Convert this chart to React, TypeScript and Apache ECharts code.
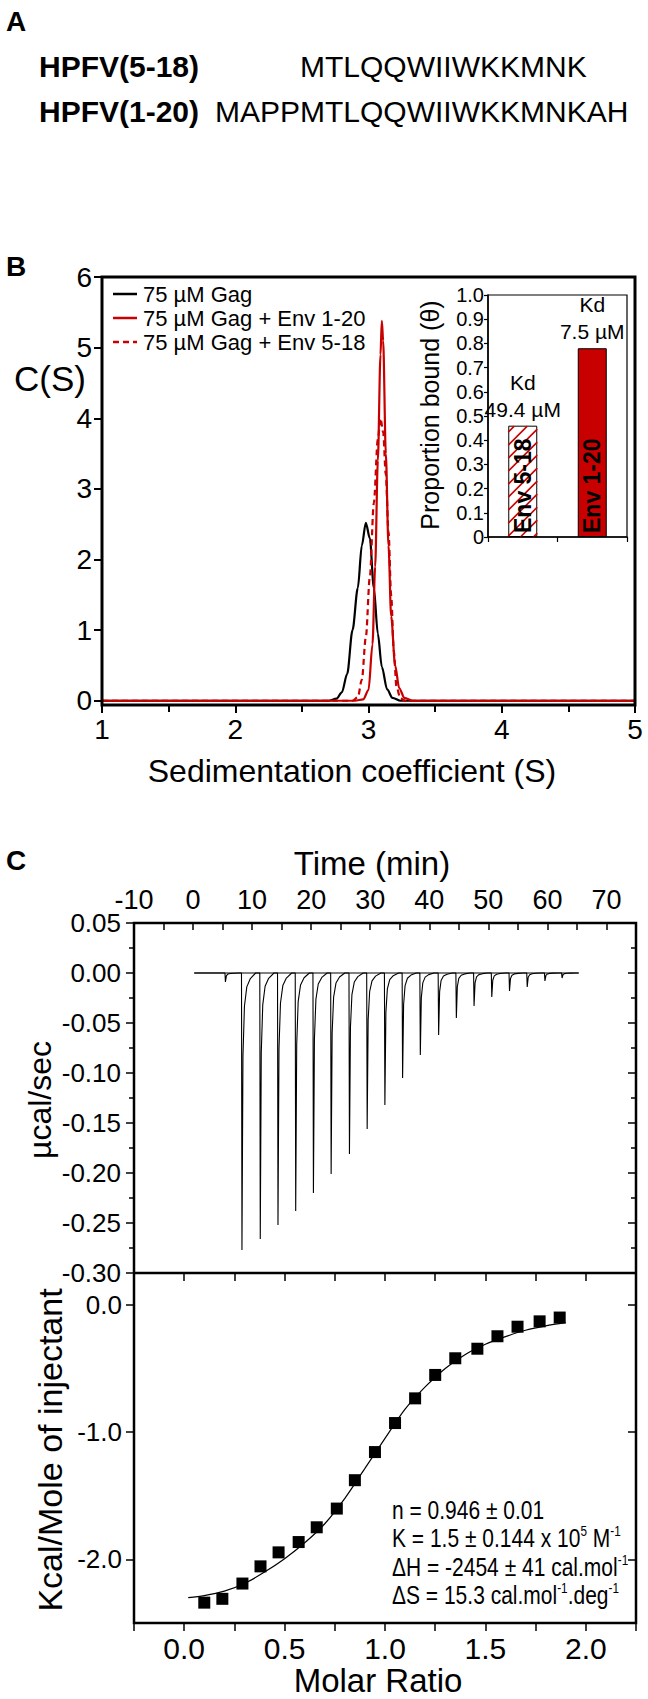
import React, { useEffect, useRef } from "react";
import * as echarts from "echarts";

const FONT = '"Liberation Sans", Arial, sans-serif';
const RED = "#c80000";

// ---------- Panel A ----------
const peptideNames = ["HPFV(5-18)", "HPFV(1-20)"];
const peptideSeqs = ["MTLQQWIIWKKMNK", "MAPPMTLQQWIIWKKMNKAH"];

// ---------- Panel B (sedimentation) ----------
const legendLabels = ["75 µM Gag", "75 µM Gag + Env 1-20", "75 µM Gag + Env 5-18"];
const gagCurve = [[1, 0], [2.7, 0], [2.76, 0.03], [2.8, 0.12], [2.84, 0.38], [2.88, 1.0], [2.92, 1.6], [2.95, 2.2], [2.98, 2.52], [3.01, 2.3], [3.04, 1.6], [3.07, 0.95], [3.1, 0.48], [3.14, 0.16], [3.18, 0.04], [3.24, 0], [5, 0]];
const env120Curve = [[1, 0], [2.9, 0], [2.96, 0.02], [3.0, 0.15], [3.03, 0.8], [3.05, 1.9], [3.07, 3.4], [3.09, 4.9], [3.1, 5.38], [3.11, 5.1], [3.13, 3.5], [3.15, 2.2], [3.17, 1.2], [3.2, 0.5], [3.23, 0.18], [3.27, 0.04], [3.33, 0], [5, 0]];
const env518Curve = [[1, 0], [2.88, 0], [2.92, 0.05], [2.95, 0.3], [2.98, 0.9], [3.01, 1.75], [3.04, 2.8], [3.07, 3.7], [3.09, 4.0], [3.11, 3.8], [3.13, 3.2], [3.15, 2.4], [3.17, 1.5], [3.19, 0.7], [3.21, 0.2], [3.24, 0.03], [3.28, 0], [5, 0]];
const cTicks = [0, 1, 2, 3, 4, 5, 6];

// inset
const insetCategories = ["Env 5-18", "Env 1-20"];
const proportionBound = [0.46, 0.78];
const kdLabels = ["49.4 µM", "7.5 µM"];

// ---------- Panel C (ITC raw) ----------
const preInjectionTime = 5.4;
const preInjectionPeak = -0.009;
const injectionTimes = [8.2, 11.3, 14.3, 17.3, 20.3, 23.3, 26.4, 29.4, 32.4, 35.4, 38.4, 41.5, 44.5, 47.5, 50.5, 53.5, 56.5, 59.5, 62.4];
const injectionPeaks = [-0.277, -0.266, -0.252, -0.238, -0.22, -0.201, -0.181, -0.156, -0.132, -0.105, -0.082, -0.062, -0.045, -0.033, -0.024, -0.018, -0.014, -0.008, -0.005];
const recoveryOffsets = [0, 0.08, 0.25, 0.5, 0.9, 1.5, 2.4];
const recoveryFractions = [0, 1, 0.3, 0.12, 0.05, 0.02, 0];
const traceStart = 0.2;
const traceEnd = 65.3;

// ---------- Panel C (integrated) ----------
const molarRatio = [0.1, 0.19, 0.29, 0.38, 0.47, 0.57, 0.66, 0.76, 0.85, 0.95, 1.05, 1.15, 1.25, 1.35, 1.46, 1.56, 1.66, 1.77, 1.87];
const heatPerInjection = [-2.34, -2.31, -2.19, -2.055, -1.945, -1.864, -1.748, -1.601, -1.378, -1.157, -0.929, -0.735, -0.551, -0.42, -0.345, -0.247, -0.172, -0.13, -0.1];
const fitCurve = [[0.02, -2.3], [0.1, -2.285], [0.2, -2.25], [0.3, -2.19], [0.4, -2.1], [0.5, -1.995], [0.6, -1.87], [0.7, -1.72], [0.8, -1.52], [0.9, -1.285], [1.0, -1.05], [1.1, -0.82], [1.2, -0.645], [1.3, -0.5], [1.4, -0.39], [1.5, -0.31], [1.6, -0.25], [1.7, -0.2], [1.8, -0.165], [1.9, -0.14]];
const energyTicks = [-2, -1, 0];
const fitResults = [
  "{n|n = 0.946 ± 0.01}",
  "{n|K = 1.5 ± 0.144 x 10}{s|5}{n| M}{s|-1}",
  "{n|ΔH = -2454 ± 41 cal.mol}{s|-1}",
  "{n|ΔS = 15.3 cal.mol}{s|-1}{n|.deg}{s|-1}",
];

const lbl = (size: number, extra: any = {}) => ({ color: "#000", fontFamily: FONT, fontSize: size, ...extra });
const tickStyle = (w: number) => ({ color: "#000", width: w });
const noLine = { show: false, onZero: false };

function buildTrace() {
  const times = [preInjectionTime, ...injectionTimes];
  const peaks = [preInjectionPeak, ...injectionPeaks];
  const out: number[][] = [[traceStart, 0]];
  times.forEach((t, i) => {
    recoveryOffsets.forEach((o, j) => out.push([t + o, peaks[i] * recoveryFractions[j]]));
  });
  out.push([traceEnd, 0]);
  return out;
}

export default function App() {
  const ref = useRef<HTMLDivElement>(null);
  useEffect(() => {
    if (!ref.current) return;
    const chart = echarts.init(ref.current, null, { renderer: "svg" });

    const textEl = (text: string, x: number, y: number, size: number, opts: any = {}) => ({
      type: "text",
      x,
      y,
      rotation: opts.rotation || 0,
      scaleX: opts.scaleX || 1,
      z: 100,
      style: {
        text,
        fill: "#000",
        fontFamily: FONT,
        fontSize: size,
        fontWeight: opts.bold ? "bold" : "normal",
        align: opts.align || "left",
        verticalAlign: opts.verticalAlign || "middle",
        rich: opts.rich,
        lineHeight: opts.lineHeight,
      },
    });

    const legendStyles = [
      { stroke: "#000", lineDash: null },
      { stroke: RED, lineDash: null },
      { stroke: RED, lineDash: [6, 4] },
    ];
    const legendY = [294, 318, 342];

    const graphic: any[] = [
      textEl("A", 6, 21, 28, { bold: true }),
      textEl(peptideNames[0], 39, 66, 30, { bold: true }),
      textEl(peptideSeqs[0], 300, 66, 30),
      textEl(peptideNames[1], 39, 111, 30, { bold: true }),
      textEl(peptideSeqs[1], 215, 111, 30),
      textEl("B", 6, 266, 28, { bold: true }),
      textEl("C", 6, 860, 28, { bold: true }),
      // frames
      { type: "rect", z: 100, shape: { x: 102, y: 277, width: 533, height: 428 }, style: { fill: "none", stroke: "#000", lineWidth: 3 } },
      { type: "rect", z: 100, shape: { x: 488, y: 295, width: 139, height: 242 }, style: { fill: "none", stroke: "#000", lineWidth: 1.2 } },
      { type: "rect", z: 100, shape: { x: 134, y: 923, width: 502, height: 700 }, style: { fill: "none", stroke: "#000", lineWidth: 2.5 } },
      { type: "line", z: 100, shape: { x1: 134, y1: 1273, x2: 636, y2: 1273 }, style: { stroke: "#000", lineWidth: 2.5 } },
      // titles
      textEl("C(S)", 50, 378, 35, { align: "center" }),
      textEl("Sedimentation coefficient (S)", 352, 771, 32, { align: "center" }),
      textEl("Proportion bound (θ)", 430, 415, 25, { align: "center", rotation: Math.PI / 2 }),
      textEl("Time (min)", 372, 863, 33, { align: "center" }),
      textEl("µcal/sec", 40, 1100, 32, { align: "center", rotation: Math.PI / 2 }),
      textEl("Kcal/Mole of injectant", 50, 1450, 34, { align: "center", rotation: Math.PI / 2 }),
      textEl("Molar Ratio", 378, 1680, 33, { align: "center" }),
      textEl(fitResults.join("\n"), 392, 1496, 25, {
        verticalAlign: "top",
        scaleX: 0.84,
        rich: {
          n: { fontSize: 25, fontFamily: FONT, lineHeight: 28.5, fill: "#000" },
          s: { fontSize: 14, fontFamily: FONT, verticalAlign: "top", fill: "#000" },
        },
      }),
    ];
    legendLabels.forEach((t, i) => {
      graphic.push({
        type: "line",
        z: 100,
        shape: { x1: 113, y1: legendY[i], x2: 137, y2: legendY[i] },
        style: { stroke: legendStyles[i].stroke, lineWidth: 2.5, lineDash: legendStyles[i].lineDash },
      });
      graphic.push(textEl(t, 143, legendY[i], 22));
    });

    const hatch = (params: any, api: any) => {
      const c = api.value(0);
      const v = api.value(1);
      const b = api.coord([c, 0]);
      const t = api.coord([c, v]);
      const half = 14.5;
      const x0 = b[0] - half, x1 = b[0] + half, y0 = t[1] + 0.5, y1 = b[1];
      const children: any[] = [];
      for (let k = x0 + y0 + 6; k < x1 + y1; k += 13) {
        const xa = Math.max(x0, k - y1);
        const xb = Math.min(x1, k - y0);
        if (xb > xa) {
          children.push({ type: "line", shape: { x1: xa, y1: k - xa, x2: xb, y2: k - xb }, style: { stroke: RED, lineWidth: 1.6 } });
        }
      }
      return { type: "group", children };
    };

    const option: any = {
      animation: false,
      backgroundColor: "#fff",
      graphic,
      grid: [
        { left: 102, top: 277, width: 533, height: 428 },
        { left: 488, top: 295, width: 139, height: 242 },
        { left: 134, top: 923, width: 502, height: 350 },
        { left: 134, top: 1273, width: 502, height: 350 },
      ],
      xAxis: [
        {
          gridIndex: 0, type: "value", min: 1, max: 5, interval: 1,
          axisLine: noLine,
          axisTick: { show: true, length: 8, lineStyle: tickStyle(2) },
          minorTick: { show: true, splitNumber: 2, length: 7, lineStyle: tickStyle(2) },
          splitLine: { show: false },
          axisLabel: lbl(28, { margin: 10 }),
        },
        {
          gridIndex: 1, type: "category", data: insetCategories,
          axisLine: { show: true, onZero: false, lineStyle: { color: "#000", width: 1.5 } },
          axisTick: { show: true, length: 5, lineStyle: tickStyle(1.2) },
          axisLabel: { show: false },
        },
        {
          gridIndex: 2, type: "value", position: "top", min: -10, max: 75, interval: 5,
          axisLine: noLine,
          axisTick: { show: true, inside: true, length: 7, lineStyle: tickStyle(1.5) },
          splitLine: { show: false },
          axisLabel: lbl(27, { margin: 10, formatter: (v: number) => (v % 10 === 0 ? String(v) : "") }),
        },
        {
          gridIndex: 3, type: "value", position: "bottom", min: -0.25, max: 2.25, interval: 0.25,
          axisLine: noLine,
          axisTick: { show: true, length: 8, lineStyle: tickStyle(1.5) },
          splitLine: { show: false },
          axisLabel: lbl(30, {
            margin: 10,
            formatter: (v: number) => (Math.abs(v * 2 - Math.round(v * 2)) < 1e-6 ? v.toFixed(1) : ""),
          }),
        },
        {
          gridIndex: 3, type: "value", position: "top", min: -0.25, max: 2.25, interval: 0.25,
          axisLine: noLine,
          axisTick: { show: true, inside: true, length: 8, lineStyle: tickStyle(1.5) },
          splitLine: { show: false },
          axisLabel: { show: false },
        },
      ],
      yAxis: [
        {
          gridIndex: 0, type: "value", min: -0.06, max: 6,
          axisLine: noLine,
          axisTick: { show: true, length: 8, lineStyle: tickStyle(2), customValues: cTicks },
          splitLine: { show: false },
          axisLabel: lbl(28, { margin: 10, customValues: cTicks }),
        },
        {
          gridIndex: 1, type: "value", min: 0, max: 1, interval: 0.1,
          axisLine: { show: true, onZero: false, lineStyle: { color: "#000", width: 1.5 } },
          axisTick: { show: true, length: 4, lineStyle: tickStyle(1.2) },
          splitLine: { show: false },
          axisLabel: lbl(20, { margin: 4, formatter: (v: number) => (v === 0 ? "0" : v.toFixed(1)) }),
        },
        {
          gridIndex: 2, type: "value", min: -0.3, max: 0.05, interval: 0.05,
          axisLine: noLine,
          axisTick: { show: true, length: 8, lineStyle: tickStyle(1.5) },
          minorTick: { show: true, splitNumber: 2, length: 5, lineStyle: tickStyle(1.5) },
          splitLine: { show: false },
          axisLabel: lbl(26, { margin: 13, formatter: (v: number) => v.toFixed(2) }),
        },
        {
          gridIndex: 2, type: "value", position: "right", min: -0.3, max: 0.05, interval: 0.05,
          axisLine: noLine,
          axisTick: { show: true, inside: true, length: 8, lineStyle: tickStyle(1.5) },
          minorTick: { show: true, splitNumber: 2, length: 5, lineStyle: tickStyle(1.5) },
          splitLine: { show: false },
          axisLabel: { show: false },
        },
        {
          gridIndex: 3, type: "value", min: -2.5, max: 0.25,
          axisLine: noLine,
          axisTick: { show: true, length: 8, lineStyle: tickStyle(1.5), customValues: energyTicks },
          splitLine: { show: false },
          axisLabel: lbl(26, { margin: 12, customValues: energyTicks, formatter: (v: number) => v.toFixed(1) }),
        },
        {
          gridIndex: 3, type: "value", position: "right", min: -2.5, max: 0.25,
          axisLine: noLine,
          axisTick: { show: true, inside: true, length: 8, lineStyle: tickStyle(1.5), customValues: energyTicks },
          splitLine: { show: false },
          axisLabel: { show: false },
        },
      ],
      series: [
        {
          type: "line", xAxisIndex: 0, yAxisIndex: 0, data: gagCurve, showSymbol: false,
          smooth: 0.3, smoothMonotone: "x", lineStyle: { color: "#000", width: 2.2 },
        },
        {
          type: "line", xAxisIndex: 0, yAxisIndex: 0, data: env518Curve, showSymbol: false,
          smooth: 0.3, smoothMonotone: "x", lineStyle: { color: RED, width: 2.2, type: [6, 4] },
        },
        {
          type: "line", xAxisIndex: 0, yAxisIndex: 0, data: env120Curve, showSymbol: false,
          smooth: 0.3, smoothMonotone: "x", lineStyle: { color: RED, width: 2.2 },
        },
        {
          type: "bar", xAxisIndex: 1, yAxisIndex: 1, barWidth: 29, barGap: "-100%",
          data: proportionBound.map((v, i) => ({
            value: v,
            itemStyle: { color: i === 0 ? "#fff" : RED, borderColor: "#000", borderWidth: 1 },
          })),
          label: {
            show: true, position: "top", distance: 3,
            formatter: (p: any) => "Kd\n" + kdLabels[p.dataIndex],
            fontSize: 21, lineHeight: 27, color: "#000", fontFamily: FONT,
          },
        },
        {
          type: "custom", xAxisIndex: 1, yAxisIndex: 1, z: 3,
          data: [[0, proportionBound[0]]], renderItem: hatch, silent: true,
        },
        {
          type: "bar", xAxisIndex: 1, yAxisIndex: 1, barWidth: 29, barGap: "-100%", z: 4, silent: true,
          data: proportionBound,
          itemStyle: { color: "rgba(0,0,0,0)" },
          label: {
            show: true, position: "insideBottom", rotate: 90, align: "left", verticalAlign: "middle", distance: 4,
            formatter: (p: any) => insetCategories[p.dataIndex],
            fontSize: 23, fontWeight: "bold", color: "#000", fontFamily: FONT,
          },
        },
        {
          type: "line", xAxisIndex: 2, yAxisIndex: 2, data: buildTrace(), showSymbol: false,
          lineStyle: { color: "#000", width: 1.1 },
        },
        {
          type: "line", xAxisIndex: 2, yAxisIndex: 2, data: [[traceStart, 0], [traceEnd, 0]], showSymbol: false,
          lineStyle: { color: "#000", width: 1 },
        },
        {
          type: "line", xAxisIndex: 3, yAxisIndex: 4, data: fitCurve, showSymbol: false, smooth: 0.3,
          lineStyle: { color: "#000", width: 1.2 },
        },
        {
          type: "scatter", xAxisIndex: 3, yAxisIndex: 4, symbol: "rect", symbolSize: 12,
          itemStyle: { color: "#000", opacity: 1 },
          data: molarRatio.map((m, i) => [m, heatPerInjection[i]]),
        },
      ],
    };
    chart.setOption(option);
    return () => chart.dispose();
  }, []);
  return <div ref={ref} style={{ position: "absolute", left: 0, top: 0, width: 648, height: 1699 }} />;
}
